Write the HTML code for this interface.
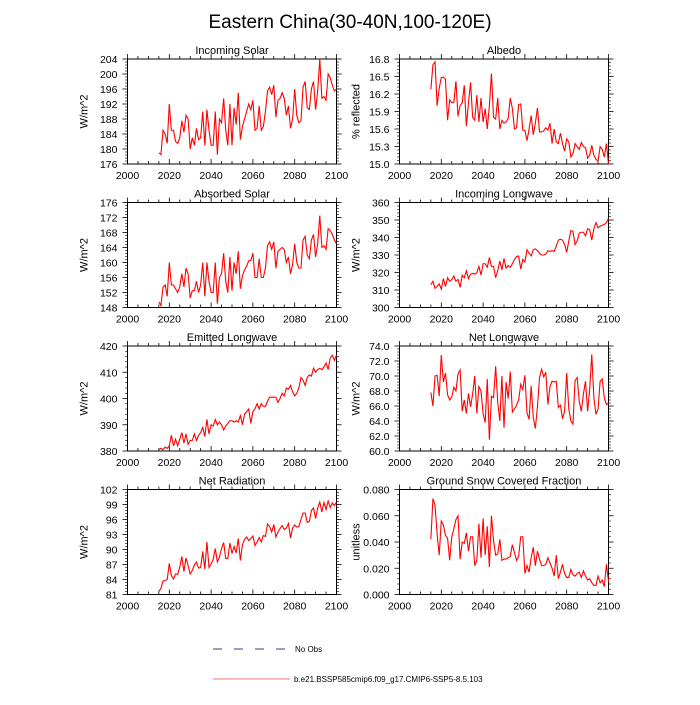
<!DOCTYPE html>
<html><head><meta charset="utf-8"><style>
body{margin:0;background:#fff;width:700px;height:700px;overflow:hidden}
svg{font-family:"Liberation Sans",sans-serif}
</style></head><body>
<svg id="c" width="700" height="700">
<text x="350" y="28" text-anchor="middle" font-size="19">Eastern China(30-40N,100-120E)</text>
<g>
<line x1="213" y1="649" x2="287" y2="649" stroke="#3a3a9a" stroke-width="1" stroke-dasharray="9,12"/>
<text x="295" y="652" font-size="8">No Obs</text>
<line x1="213" y1="679" x2="290" y2="679" stroke="#ff7070" stroke-width="1"/>
<text x="294" y="682" font-size="8">b.e21.BSSP585cmip6.f09_g17.CMIP6-SSP5-8.5.103</text>
</g>
</svg>
<script>
const years=[];for(let y=2015;y<=2100;y++)years.push(y);
const incomingSolar=[179,178.5,185,184,181.5,192,185,185,182,181.5,183,187.5,184.5,189,188,180,183,181,185.5,182.5,183,190,181,190.5,185,181,181,190,178.5,188,187,193.5,185,181,192,181,191,186.5,195,182.5,186,188,190,192,190.5,193,185,185.5,191.5,185,186,190,195.5,196.5,194.5,197,188.5,193,193.5,195,193.5,189,191.5,185.5,188,196,189,187,187.5,196.5,198,191,190.5,196,198,190.5,195.5,204,193.5,194,193,200,199,197,195.5,196];
const albedo=[16.28,16.70,16.75,16.00,16.30,16.48,16.49,16.45,15.75,16.10,16.05,16.06,16.42,15.82,16.00,16.05,16.35,15.65,16.05,16.40,15.80,15.75,16.18,15.72,16.13,15.72,15.95,15.60,16.00,16.55,15.80,15.77,16.13,15.60,15.75,15.70,15.72,15.78,16.13,15.95,15.60,15.62,16.02,16.03,15.58,15.58,15.40,15.60,15.83,15.50,15.70,15.96,15.55,15.55,15.57,15.62,15.58,15.70,15.35,15.60,15.38,15.35,15.53,15.35,15.22,15.43,15.38,15.12,15.18,15.35,15.30,15.25,15.37,15.30,15.28,15.10,15.15,15.32,15.15,15.08,15.05,15.30,15.25,15.12,15.35,15.00];
const absorbedSolar=[149.5,148.5,153.5,154,151,160,154,154,153,152,153.5,157,153.5,158.5,157,150.5,152.5,152.5,155,152,154,160,151,160,155,152,152,160,149,156,157,162.5,155,152,161.5,152.5,160,157,163,153,156.5,158,159,160.5,160.5,162.5,156,156,161,156,156,158.5,164.5,165.5,163.5,165.5,158.5,163,163.5,164,163.5,160,161.5,157,159.5,165,160,158.5,158.5,166,167,162,161,166,167.5,161.5,165,172.5,164,164.5,163.5,169,168.5,167.5,166,165];
const incomingLW=[313,315,311,312,313.5,310.5,316.5,312,317,315,316,318,315,316,311.5,318.5,317,321,316.5,319,319.5,319,320,323.5,318.5,325,325,323,328.5,323.5,323.5,317,321,326.5,321.5,328,322.5,324,323,325,327.5,329,329.5,322,327.5,326,333,331,329.5,333,333.5,332.5,331,330,330,330.5,332.5,332,332.5,332,335,338.5,339,338.5,336,331.5,338,344,343.5,336,338,342.5,343,343,341,345,344.5,338.5,345,348.5,345.5,346.5,347,347.5,348.5,351];
const emittedLW=[380.5,381,380.5,381.5,381,382,386,382,384.5,382,384.5,387,383,386.5,382.5,384,384,386.5,384,386,387,389,385.5,392,386.5,390,389.5,392,390,391,390,388,389.5,390.5,391.5,391.5,391,391.5,391,393.5,390,394,395,396,390.5,395,396,398,396,398,397,397,399,400.5,400.5,400.5,400.5,398.5,400,402,401,404,403.5,405,402.5,401,402,404,408,407,405,408,409,408.5,411.5,410,411,411.5,411,412,413.5,411,415.5,416.5,414.5,416.5];
const netLW=[67.8,66,70,70.1,67.3,72.8,69.2,70.4,67.5,66.8,67.2,68.5,68,70.3,70.8,65.3,66.8,65,67.7,65.9,67.6,70,65,68.6,68,65,63.8,69.6,61.5,67.3,67.1,71.3,66.5,64,70,63.1,69.2,67,70.6,65.2,65.6,66.1,66.8,68.9,68.2,70.1,65.1,64.2,68.7,64.5,63,65.9,69.8,70.9,69.9,70.5,66.2,68.6,69.3,69.2,69.3,65.8,66.1,64.3,65.3,70.4,65.6,64,63.6,69.4,69.8,66.6,65.3,67.6,69.3,65.3,68.2,72.9,67.1,64.9,65.6,69.3,69.6,67.1,66.2,66.4];
const netRad=[81.6,82.2,83.7,83.8,84,87.2,84.8,84.1,85.1,85,86.5,88.6,85.6,88.3,86.8,85.1,85.8,86.9,87.5,86.3,86.4,89.6,86.1,91.5,86.4,87.1,88,90.2,87.5,88.5,90.2,91.4,88.2,88.2,91.3,89.2,90.6,89.3,92.2,87.8,91,92,92.5,91.8,92.2,92.7,90.8,91.5,92.4,91.5,92.8,92.6,95.1,94.6,93.5,95,92.5,93.5,94.2,94.8,94,94.3,95.2,92.3,94.3,94.9,94.5,94.6,96,97.3,97.3,95.4,95.6,97.8,98.3,96.2,98.3,99.5,97.5,99.4,98,99.7,98.4,99.3,98.8,99.5];
const snow=[.042,.073,.068,.046,.030,.056,.053,.045,.043,.026,.044,.050,.057,.060,.027,.040,.039,.047,.033,.044,.044,.022,.026,.054,.028,.058,.030,.052,.021,.060,.041,.030,.031,.042,.026,.027,.027,.028,.029,.038,.032,.026,.029,.044,.044,.016,.022,.017,.028,.036,.022,.033,.027,.022,.022,.023,.028,.024,.020,.014,.030,.012,.017,.023,.016,.013,.013,.019,.015,.014,.016,.017,.013,.018,.014,.011,.012,.009,.007,.007,.014,.009,.011,.006,.023,.010];
const xTicks=[2000,2020,2040,2060,2080,2100];
const panels=[
 {name:'incoming-solar',title:'Incoming Solar',ylab:'W/m^2',data:incomingSolar,ticks:[176,180,184,188,192,196,200,204],dec:0,col:0,row:0},
 {name:'albedo',title:'Albedo',ylab:'% reflected',data:albedo,ticks:[15.0,15.3,15.6,15.9,16.2,16.5,16.8],dec:1,col:1,row:0},
 {name:'absorbed-solar',title:'Absorbed Solar',ylab:'W/m^2',data:absorbedSolar,ticks:[148,152,156,160,164,168,172,176],dec:0,col:0,row:1},
 {name:'incoming-longwave',title:'Incoming Longwave',ylab:'W/m^2',data:incomingLW,ticks:[300,310,320,330,340,350,360],dec:0,col:1,row:1},
 {name:'emitted-longwave',title:'Emitted Longwave',ylab:'W/m^2',data:emittedLW,ticks:[380,390,400,410,420],dec:0,col:0,row:2},
 {name:'net-longwave',title:'Net Longwave',ylab:'W/m^2',data:netLW,ticks:[60,62,64,66,68,70,72,74],dec:1,col:1,row:2},
 {name:'net-radiation',title:'Net Radiation',ylab:'W/m^2',data:netRad,ticks:[81,84,87,90,93,96,99,102],dec:0,col:0,row:3},
 {name:'snow-fraction',title:'Ground Snow Covered Fraction',ylab:'unitless',data:snow,ticks:[0,0.02,0.04,0.06,0.08],dec:3,col:1,row:3}
];
const svg=document.getElementById('c');const NS='http://www.w3.org/2000/svg';
function mk(t,a,p){const e=document.createElementNS(NS,t);for(const k in a)e.setAttribute(k,a[k]);(p||svg).appendChild(e);return e;}
const colX=[127.5,399.5],W=209,rowY=[59,202.5,346,489.5],H=105;
panels.forEach(p=>{
 const x0=colX[p.col],y0=rowY[p.row];
 const ymin=p.ticks[0],ymax=p.ticks[p.ticks.length-1];
 const sx=v=>x0+(v-2000)/100*W, sy=v=>y0+H-(v-ymin)/(ymax-ymin)*H;
 const g=mk('g',{});
 
 
 const t=mk('text',{x:x0+W/2,y:y0-5,'text-anchor':'middle','font-size':11},g);t.textContent=p.title;
 
 
 const yl=mk('text',{x:0,y:0,'text-anchor':'middle','font-size':11,transform:`translate(${x0-40},${y0+H/2}) rotate(-90)`},g);yl.textContent=p.ylab;
 
 
 for(let yr=2000;yr<=2100;yr+=5){const X=sx(yr),L=(yr%20==0)?5:3;
  mk('line',{x1:X,y1:y0+H,x2:X,y2:y0+H-L,stroke:'#000','stroke-width':0.8},g);
  mk('line',{x1:X,y1:y0,x2:X,y2:y0-L,stroke:'#000','stroke-width':0.8},g);}
 xTicks.forEach(v=>{const tx=mk('text',{x:sx(v),y:y0+H+15,'text-anchor':'middle','font-size':10.5},g);tx.textContent=v;
  
  });
 const step=p.ticks[1]-p.ticks[0];
 for(let i=0;i<p.ticks.length;i++){
  const v=p.ticks[i],Y=sy(v);
  mk('line',{x1:x0,y1:Y,x2:x0-5,y2:Y,stroke:'#000','stroke-width':0.8},g);
  mk('line',{x1:x0+W,y1:Y,x2:x0+W+5,y2:Y,stroke:'#000','stroke-width':0.8},g);
  const ty=mk('text',{x:x0-10,y:Y+4,'text-anchor':'end','font-size':10.5},g);ty.textContent=v.toFixed(p.dec);
  
  
  if(i<p.ticks.length-1)for(let k=1;k<5;k++){const Ym=sy(v+step*k/5);
   mk('line',{x1:x0,y1:Ym,x2:x0-2.5,y2:Ym,stroke:'#000','stroke-width':0.6},g);
   mk('line',{x1:x0+W,y1:Ym,x2:x0+W+2.5,y2:Ym,stroke:'#000','stroke-width':0.6},g);}
 }
 const fr=mk('rect',{x:x0,y:y0,width:W,height:H,fill:'none',stroke:'#000','stroke-width':1},g);
 
 
 const pts=p.data.map((v,i)=>sx(years[i]).toFixed(2)+','+sy(v).toFixed(2)).join(' ');
 const pl=mk('polyline',{points:pts,fill:'none',stroke:'#ff0000','stroke-width':1.1},g);
 
 
});
</script>
</body></html>
